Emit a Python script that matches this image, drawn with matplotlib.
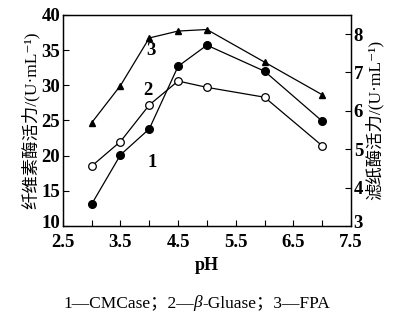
import matplotlib
matplotlib.use("Agg")
import matplotlib.pyplot as plt
from matplotlib.ticker import MultipleLocator
from matplotlib.transforms import ScaledTranslation

plt.rcParams['font.family'] = ['Liberation Serif', 'Noto Sans CJK SC', 'DejaVu Sans']

ph = [3.0, 3.5, 4.0, 4.5, 5.0, 6.0, 7.0]
cmcase = [13.1, 20.1, 23.8, 32.7, 35.7, 32.0, 24.9]   # 1, left axis
gluase = [18.5, 22.0, 27.2, 30.6, 29.7, 28.3, 21.4]   # 2, left axis
fpa = [5.69, 6.66, 7.90, 8.08, 8.12, 7.27, 6.42]      # 3, right axis

xticks = [2.5, 3.5, 4.5, 5.5, 6.5, 7.5]
left_ticks = [10, 15, 20, 25, 30, 35, 40]
right_ticks = [3, 4, 5, 6, 7, 8]

fig = plt.figure(figsize=(3.93, 3.25), dpi=100)
ax = fig.add_axes([0.160, 0.305, 0.733, 0.649])
ax2 = ax.twinx()

ax.plot(ph, cmcase, color='black', lw=0.9, marker='o', ms=5.5, mfc='black', mec='black')
ax.plot(ph, gluase, color='black', lw=0.9, marker='o', ms=5.5, mfc='white', mec='black', mew=0.9)
ax2.plot(ph, fpa, color='black', lw=0.9, marker='^', ms=5, mfc='black', mec='black')

ax.set_xlim(2.5, 7.5)
ax.set_ylim(10, 40)
ax2.set_ylim(3, 8.5)
ax.set_xticks(xticks)
ax.xaxis.set_minor_locator(MultipleLocator(0.5))
ax.set_yticks(left_ticks)
ax2.set_yticks(right_ticks)

ax.tick_params(axis='x', which='both', direction='in', length=4, width=0.8, labelsize=13.5, pad=6, top=False)
ax.tick_params(axis='y', direction='in', length=4, width=0.8, labelsize=13.5, pad=2)
ax2.tick_params(axis='y', direction='in', length=4, width=0.8, labelsize=13.5, pad=2)
for a in (ax, ax2):
    for s in a.spines.values():
        s.set_linewidth(0.9)
    for lab in a.get_xticklabels() + a.get_yticklabels():
        lab.set_fontweight('bold')

# lift the corner labels a little so they clear the x tick labels
for t in (ax.yaxis.get_major_ticks()[0].label1, ax2.yaxis.get_major_ticks()[0].label2):
    t.set_transform(t.get_transform() + ScaledTranslation(0, 3 / 72, fig.dpi_scale_trans))

ax.set_ylabel('纤维素酶活力/(U·mL⁻¹)', fontsize=12.5, labelpad=1)
ax2.set_ylabel('滤纸酶活力/(U·mL⁻¹)', fontsize=12.5, labelpad=1)
ax.set_xlabel('pH', fontsize=13, labelpad=4, fontweight='bold')

ax.text(4.05, 19.0, '1', fontsize=13.5, ha='center', va='center', fontweight='bold')
ax.text(3.98, 29.2, '2', fontsize=13.5, ha='center', va='center', fontweight='bold')
ax.text(4.02, 35.0, '3', fontsize=13.5, ha='center', va='center', fontweight='bold')

# caption built from pieces so beta can be italic
parts = [('1—CMCase；2—', 'normal'), ('β', 'italic'), ('-Gluase；3—FPA', 'normal')]
fig.canvas.draw()
r = fig.canvas.get_renderer()
texts = []
for s, st in parts:
    texts.append(fig.text(0, 0.068, s, fontsize=12.5, style=st, va='center'))
widths = [t.get_window_extent(r).width for t in texts]
x = (fig.bbox.width - sum(widths)) / 2
for t, w in zip(texts, widths):
    t.set_x(x / fig.bbox.width)
    x += w

fig.savefig('out.png', dpi=100)
